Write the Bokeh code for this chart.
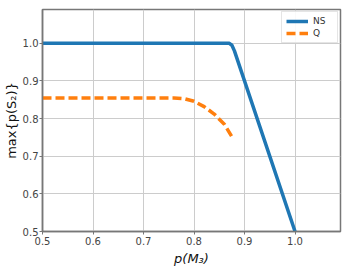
from bokeh.plotting import figure
from bokeh.models import Range1d, Legend, LegendItem, FixedTicker, NumeralTickFormatter
from bokeh.embed import file_html
from bokeh.resources import INLINE

ns_x = [0.5, 0.87, 0.875, 0.88, 1.0]
ns_y = [1.0, 1.0, 0.995, 0.98, 0.5]
q_x = [0.5, 0.76, 0.78, 0.80, 0.82, 0.84, 0.86, 0.875]
q_y = [0.855, 0.855, 0.853, 0.846, 0.832, 0.812, 0.785, 0.752]
x_ticks = [0.5, 0.6, 0.7, 0.8, 0.9, 1.0]
y_ticks = [0.5, 0.6, 0.7, 0.8, 0.9, 1.0]

FONT = "DejaVu Sans"

p = figure(frame_width=298, frame_height=222, output_backend="svg", toolbar_location=None,
           x_range=Range1d(0.5, 1.09), y_range=Range1d(0.5, 1.09),
           min_border_left=41, min_border_right=10, min_border_top=9, min_border_bottom=38)

r1 = p.line(ns_x, ns_y, line_color="#1f77b4", line_width=3.5)
r2 = p.line(q_x, q_y, line_color="#ff7f0e", line_width=3.5, line_dash="9 4")

legend = Legend(items=[LegendItem(label="NS", renderers=[r1]), LegendItem(label="Q", renderers=[r2])],
                location="top_right", label_text_font=FONT, label_text_font_size="9px",
                label_text_color="#333", glyph_width=22, glyph_height=10, label_height=10,
                spacing=2, padding=4, margin=2, label_standoff=5,
                border_line_color="#cccccc", border_line_width=1, background_fill_alpha=0.9)
p.add_layout(legend)

for ax in (p.xaxis[0], p.yaxis[0]):
    ax.major_label_text_font = FONT
    ax.major_label_text_font_size = "10px"
    ax.major_label_text_color = "#444444"
    ax.axis_label_text_font = FONT
    ax.axis_label_text_font_size = "13px"
    ax.axis_label_text_color = "#111111"
    ax.axis_line_color = "#777777"
    ax.axis_line_width = 1.5
    ax.major_tick_line_color = "#777777"
    ax.major_tick_in = 0
    ax.major_tick_out = 3
    ax.minor_tick_line_color = None
    ax.major_label_standoff = 2
    ax.axis_label_standoff = 3
    ax.formatter = NumeralTickFormatter(format="0.0")

p.yaxis.major_label_standoff = 1
p.yaxis.axis_label_standoff = 1
p.xaxis.ticker = FixedTicker(ticks=x_ticks)
p.yaxis.ticker = FixedTicker(ticks=y_ticks)
p.xaxis.axis_label = "p(M₃)"
p.xaxis.axis_label_text_font_style = "italic"
p.yaxis.axis_label = "max{p(S₂)}"
p.yaxis.axis_label_text_font_style = "normal"

p.xgrid.grid_line_color = "#cccccc"
p.ygrid.grid_line_color = "#cccccc"
p.xgrid.ticker = FixedTicker(ticks=x_ticks)
p.ygrid.ticker = FixedTicker(ticks=y_ticks)
p.outline_line_color = "#777777"
p.outline_line_width = 1.5
p.background_fill_color = "white"

open("out.html", "w").write(file_html(p, INLINE))
